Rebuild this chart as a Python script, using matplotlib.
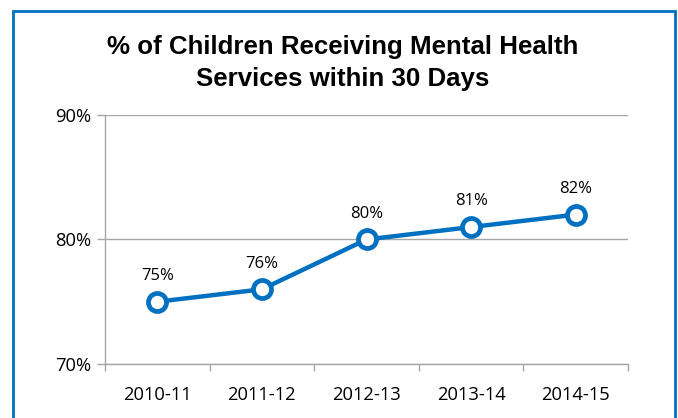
import matplotlib.pyplot as plt
from matplotlib.patches import Rectangle

# yillik veriler
years = ['2010-11', '2011-12', '2012-13', '2013-14', '2014-15']
pct = [75, 76, 80, 81, 82]
y_ticks = [70, 80, 90]

blue = '#0070C0'
grey = '#A6A6A6'

fig = plt.figure(figsize=(6.78, 4.18), dpi=100)
ax = fig.add_axes([0.1549, 0.1292, 0.7714, 0.5957])

x = range(len(years))
ax.plot(x, pct, color=blue, linewidth=3.2, marker='o', markersize=13,
        markerfacecolor='white', markeredgecolor=blue, markeredgewidth=3.4,
        solid_capstyle='round', zorder=3)

for xi, v in zip(x, pct):
    ax.annotate(f'{v}%', (xi, v), xytext=(0, 18.5), textcoords='offset points',
                ha='center', va='center', fontsize=12, family='Open Sans')

ax.set_xlim(-0.5, len(years) - 0.5)
ax.set_ylim(70, 90)
ax.set_yticks(y_ticks)
ax.set_yticklabels([f'{t}%' for t in y_ticks], fontsize=13.2, family='Open Sans')
ax.set_xticks(list(x))
ax.set_xticklabels(years, fontsize=13.2, family='Open Sans')
ax.set_xticks([i - 0.5 for i in range(len(years) + 1)], minor=True)
ax.tick_params(axis='x', which='major', length=0, pad=16)
ax.tick_params(axis='x', which='minor', length=5, color=grey, width=1)
ax.tick_params(axis='y', length=6, color=grey, width=1, pad=4)

ax.grid(axis='y', color=grey, linewidth=1)
for s in ['top', 'right']:
    ax.spines[s].set_visible(False)
for s in ['left', 'bottom']:
    ax.spines[s].set_color(grey)
    ax.spines[s].set_linewidth(1)

fig.text(0.505, 0.849, '% of Children Receiving Mental Health\nServices within 30 Days',
         ha='center', va='center', fontsize=18.6, family='Liberation Sans',
         weight='bold', linespacing=1.4)

# mavi cerceve
fig.patches.append(Rectangle((12.5 / 678, -0.1), 662 / 678, 1.1 - 10.5 / 418,
                             transform=fig.transFigure, fill=False,
                             edgecolor=blue, linewidth=2))

fig.savefig('out.png', dpi=100)
